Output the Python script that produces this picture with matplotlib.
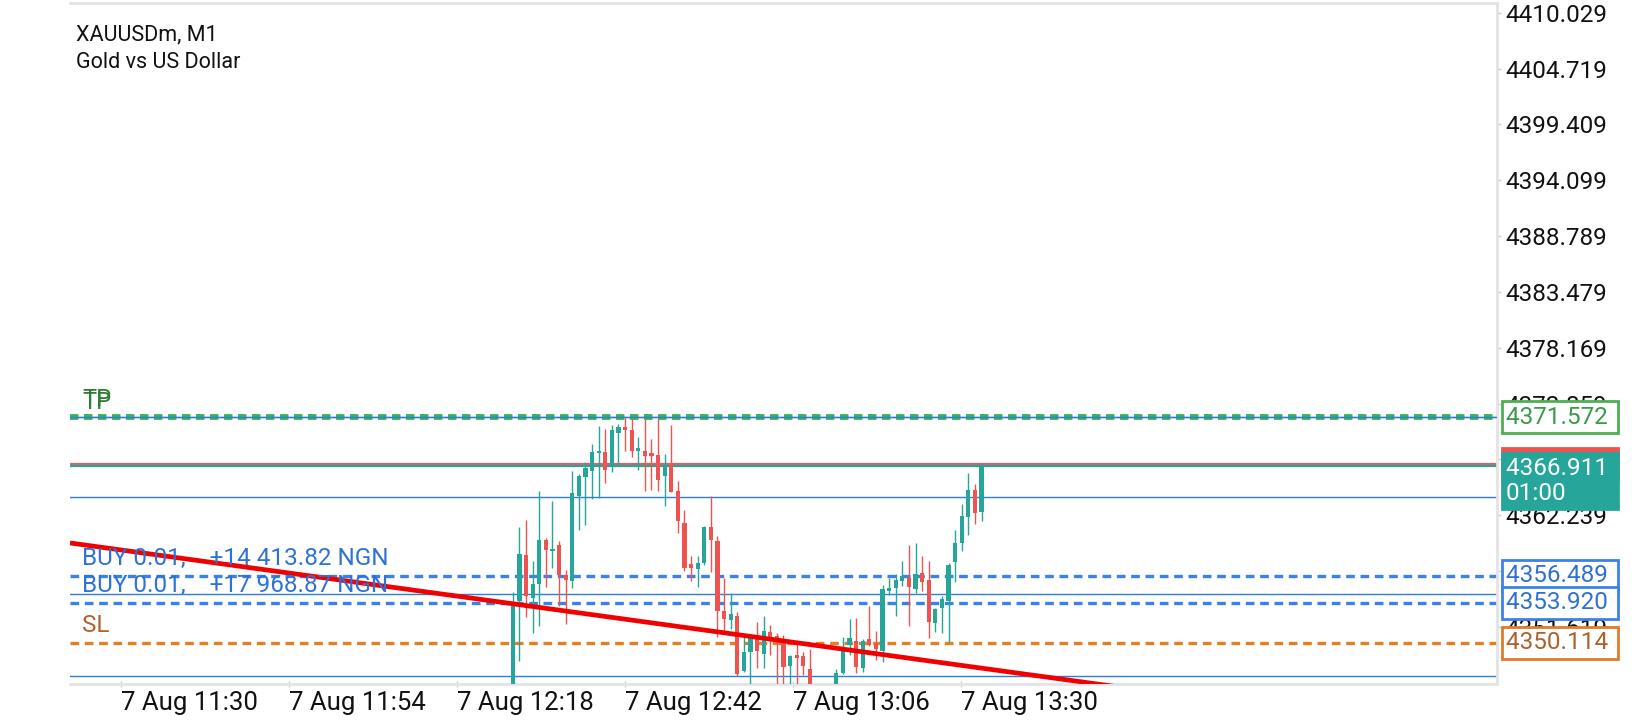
import numpy as np
import matplotlib
matplotlib.use("Agg")
import matplotlib.pyplot as plt
import matplotlib.transforms as mtransforms

plt.rcParams['font.family'] = ['Roboto', 'DejaVu Sans']

# XAUUSDm M1 candles (bars below the window are estimates)
opens = [4345.40, 4354.12, 4358.51, 4354.37, 4355.75, 4359.85, 4358.82, 4359.38, 4356.53, 4356.00,
         4364.05, 4365.87, 4366.43, 4368.13, 4368.22, 4366.81, 4370.04, 4370.63, 4370.35, 4368.31,
         4368.38, 4368.13, 4368.00, 4365.93, 4367.03, 4364.55, 4361.48, 4357.57, 4357.16, 4357.66,
         4361.17, 4359.82, 4353.18, 4352.33, 4352.65, 4347.45, 4349.26, 4350.67, 4349.04, 4351.14,
         4350.77, 4350.36, 4347.92, 4348.95, 4348.86, 4347.60, 4345.90, 4345.20, 4345.60, 4345.30,
         4347.23, 4349.89, 4350.30, 4347.70, 4350.52, 4350.05, 4349.36, 4355.06, 4355.37, 4356.00,
         4356.31, 4355.28, 4356.72, 4356.06, 4351.99, 4353.40, 4354.06, 4357.78, 4359.60, 4362.11,
         4364.68, 4362.58]
highs = [4354.97, 4361.17, 4361.80, 4357.94, 4364.55, 4360.07, 4363.61, 4359.76, 4357.00, 4366.43,
         4366.18, 4367.28, 4369.00, 4370.73, 4370.41, 4370.82, 4370.88, 4371.51, 4371.35, 4369.69,
         4371.35, 4369.47, 4371.35, 4368.06, 4370.82, 4365.46, 4362.74, 4358.41, 4358.41, 4361.23,
         4364.05, 4360.23, 4356.28, 4354.81, 4353.02, 4350.83, 4350.99, 4352.14, 4352.65, 4351.83,
         4351.05, 4350.83, 4348.95, 4350.20, 4349.26, 4349.50, 4346.00, 4345.90, 4346.00, 4347.60,
         4350.67, 4352.40, 4352.49, 4350.52, 4353.65, 4351.21, 4355.59, 4356.25, 4356.63, 4357.94,
         4359.38, 4359.60, 4358.35, 4357.94, 4353.43, 4354.59, 4357.72, 4360.86, 4363.36, 4366.25,
         4365.18, 4367.12]
lows = [4345.00, 4348.42, 4352.55, 4351.05, 4351.68, 4355.47, 4357.25, 4353.65, 4351.86, 4355.37,
        4360.86, 4361.33, 4363.77, 4363.90, 4365.31, 4366.34, 4366.97, 4368.31, 4367.75, 4366.50,
        4364.55, 4364.68, 4364.55, 4363.11, 4364.46, 4360.54, 4356.94, 4355.99, 4355.47, 4357.47,
        4356.85, 4350.67, 4351.08, 4351.46, 4347.00, 4347.32, 4346.00, 4347.76, 4347.76, 4349.00,
        4345.90, 4346.00, 4346.00, 4346.00, 4347.07, 4345.50, 4344.80, 4344.50, 4344.90, 4345.10,
        4347.13, 4348.95, 4347.29, 4347.38, 4349.83, 4348.48, 4348.32, 4354.68, 4352.65, 4355.53,
        4351.68, 4354.84, 4355.06, 4350.58, 4351.14, 4351.05, 4350.20, 4355.94, 4358.82, 4360.32,
        4361.39, 4361.73]
closes = [4353.81, 4358.60, 4354.59, 4355.69, 4359.91, 4358.91, 4359.07, 4356.56, 4356.09, 4364.37,
          4365.93, 4366.72, 4368.22, 4368.31, 4366.56, 4370.35, 4370.63, 4370.32, 4368.31, 4368.63,
          4367.91, 4367.84, 4365.56, 4366.81, 4364.46, 4361.73, 4357.25, 4357.25, 4357.72, 4361.17,
          4359.85, 4353.18, 4352.40, 4352.87, 4347.13, 4349.26, 4350.77, 4349.36, 4351.24, 4350.52,
          4350.20, 4347.85, 4348.86, 4348.70, 4347.92, 4345.90, 4345.20, 4345.60, 4345.30, 4347.23,
          4349.64, 4350.58, 4347.85, 4350.30, 4349.89, 4349.51, 4355.22, 4355.31, 4356.06, 4356.47,
          4355.43, 4356.63, 4355.91, 4352.14, 4353.34, 4354.28, 4357.47, 4359.60, 4362.17, 4364.62,
          4362.49, 4366.911]

price_ticks = [4410.029, 4404.719, 4399.409, 4394.099, 4388.789, 4383.479,
               4378.169, 4372.859, 4367.549, 4362.239, 4356.929, 4351.619]
time_labels = ['7 Aug 11:30', '7 Aug 11:54', '7 Aug 12:18', '7 Aug 12:42', '7 Aug 13:06', '7 Aug 13:30']
time_tick_first = -59.4      # bar index of the first time label
time_tick_step = 25.45       # bars between labels

tp_price = 4371.572
buy_prices = [4356.489, 4353.920]
buy_texts = ['BUY 0.01,    +14 413.82 NGN', 'BUY 0.01,    +17 968.87 NGN']
sl_price = 4350.114
bid_price = 4366.911
ask_price = 4367.15
hlines_blue = [4371.572, 4363.95, 4354.73, 4346.96]
trend_x = [-67.1, 91.4]
trend_y = [4359.61, 4345.95]

TEAL = '#26a69a'
RED = '#ef5350'

fig = plt.figure(figsize=(16.4, 7.2), dpi=100)
W, H = 1640, 720
ax = fig.add_axes([70 / W, 1 - 684 / H, (1497 - 70) / W, (684 - 3) / H])
ax.set_xlim(-67.1, 149.1)
ax.set_ylim(4346.20, 4410.95)

# candles
o = np.array(opens); c = np.array(closes)
h = np.array(highs); l = np.array(lows)
idx = np.arange(len(o))
up = c >= o
cols = np.where(up, TEAL, RED)
ax.vlines(idx, l, h, colors=cols, linewidth=1.0, zorder=3)
body_lo = np.minimum(o, c)
body_h = np.maximum(np.abs(c - o), 0.15)
ax.bar(idx, body_h, bottom=body_lo, width=0.62, color=cols, linewidth=0, zorder=3)

# horizontal lines
for lv in hlines_blue:
    ax.axhline(lv, color='#2d7fd3', linewidth=1.0, zorder=2)
ax.axhline(tp_price, color='#3cb15a', linewidth=4.2, linestyle=(0, (1.45, 0.95)), zorder=2.5)
ax.axhline(tp_price, color='#2d7fd3', linewidth=1.0, zorder=2.6)
for bp in buy_prices:
    ax.axhline(bp, color='#3b82e8', linewidth=2.4, linestyle=(0, (2.6, 1.7)), zorder=2.5)
ax.axhline(sl_price, color='#e67e22', linewidth=2.4, linestyle=(0, (2.6, 1.7)), zorder=2.5)
ax.axhline(ask_price, color='#e06060', linewidth=1.6, zorder=2)
ax.axhline(bid_price, color=TEAL, linewidth=1.6, zorder=2)

# trend line
ax.plot(trend_x, trend_y, color='#f00000', linewidth=3.4, zorder=4, solid_capstyle='butt')

# labels over the order lines
tx = mtransforms.blended_transform_factory(ax.transAxes, ax.transData)
lx = 12 / (1497 - 70)
for dy in (15, 18):
    ax.annotate('TP', xy=(lx, tp_price), xycoords=tx, xytext=(0, dy), textcoords='offset pixels',
                va='center', ha='left', fontsize=17, color='#2e7d32', zorder=6)
for bp, t in zip(buy_prices, buy_texts):
    ax.annotate(t, xy=(lx, bp), xycoords=tx, xytext=(0, 17), textcoords='offset pixels',
                va='center', ha='left', fontsize=17.5, color='#2f72d6', zorder=6)
ax.annotate('SL', xy=(lx, sl_price), xycoords=tx, xytext=(0, 17), textcoords='offset pixels',
            va='center', ha='left', fontsize=17.5, color='#b2612b', zorder=6)

# title
fig.text(76 / W, 1 - 35 / H, 'XAUUSDm, M1', fontsize=15.5, va='center', ha='left', color='#111111')
fig.text(76 / W, 1 - 63 / H, 'Gold vs US Dollar', fontsize=15.5, va='center', ha='left', color='#111111')

# axes styling
ax.spines['left'].set_visible(False)
for s in ('top', 'right', 'bottom'):
    ax.spines[s].set_color('#e3e3e3')
    ax.spines[s].set_linewidth(2.0)
ax.yaxis.tick_right()
ax.set_yticks(price_ticks)
ax.set_yticklabels(['%.3f' % v for v in price_ticks])
ax.tick_params(axis='y', length=3, width=1, color='#d0d0d0', labelsize=17.5, pad=3, labelcolor='#111111')
xt = [time_tick_first + k * time_tick_step for k in range(len(time_labels))]
ax.set_xticks(xt)
ax.set_xticklabels(time_labels)
for lab in ax.get_xticklabels():
    lab.set_ha('left')
ax.tick_params(axis='x', length=4, width=1, color='#d0d0d0', labelsize=18.5, pad=3,
               labelcolor='#111111', direction='inout')

# right side price boxes
def price_box(price, text, ec, fc, tc, dy=0, zo=10):
    ax.annotate(text, xy=(1, price), xycoords=tx, xytext=(9, dy), textcoords='offset pixels',
                va='center', ha='left', fontsize=17.5, color=tc, zorder=zo, annotation_clip=False,
                linespacing=1.1,
                bbox=dict(boxstyle='square,pad=0.18', fc=fc, ec=ec, lw=2.0))

price_box(tp_price, '4371.572 ', '#4cb050', 'white', '#3a9a4a')
price_box(ask_price, '%.3f ' % bid_price, RED, RED, RED, zo=9)
price_box(bid_price, '%.3f \n01:00' % bid_price, TEAL, TEAL, 'white', dy=-15, zo=10)
for bp in buy_prices:
    price_box(bp, '%.3f ' % bp, '#3b82e8', 'white', '#2f6fd6')
price_box(sl_price, '%.3f ' % sl_price, '#e07b2a', 'white', '#b0602a')

fig.savefig('out.png', dpi=100, facecolor='white')
